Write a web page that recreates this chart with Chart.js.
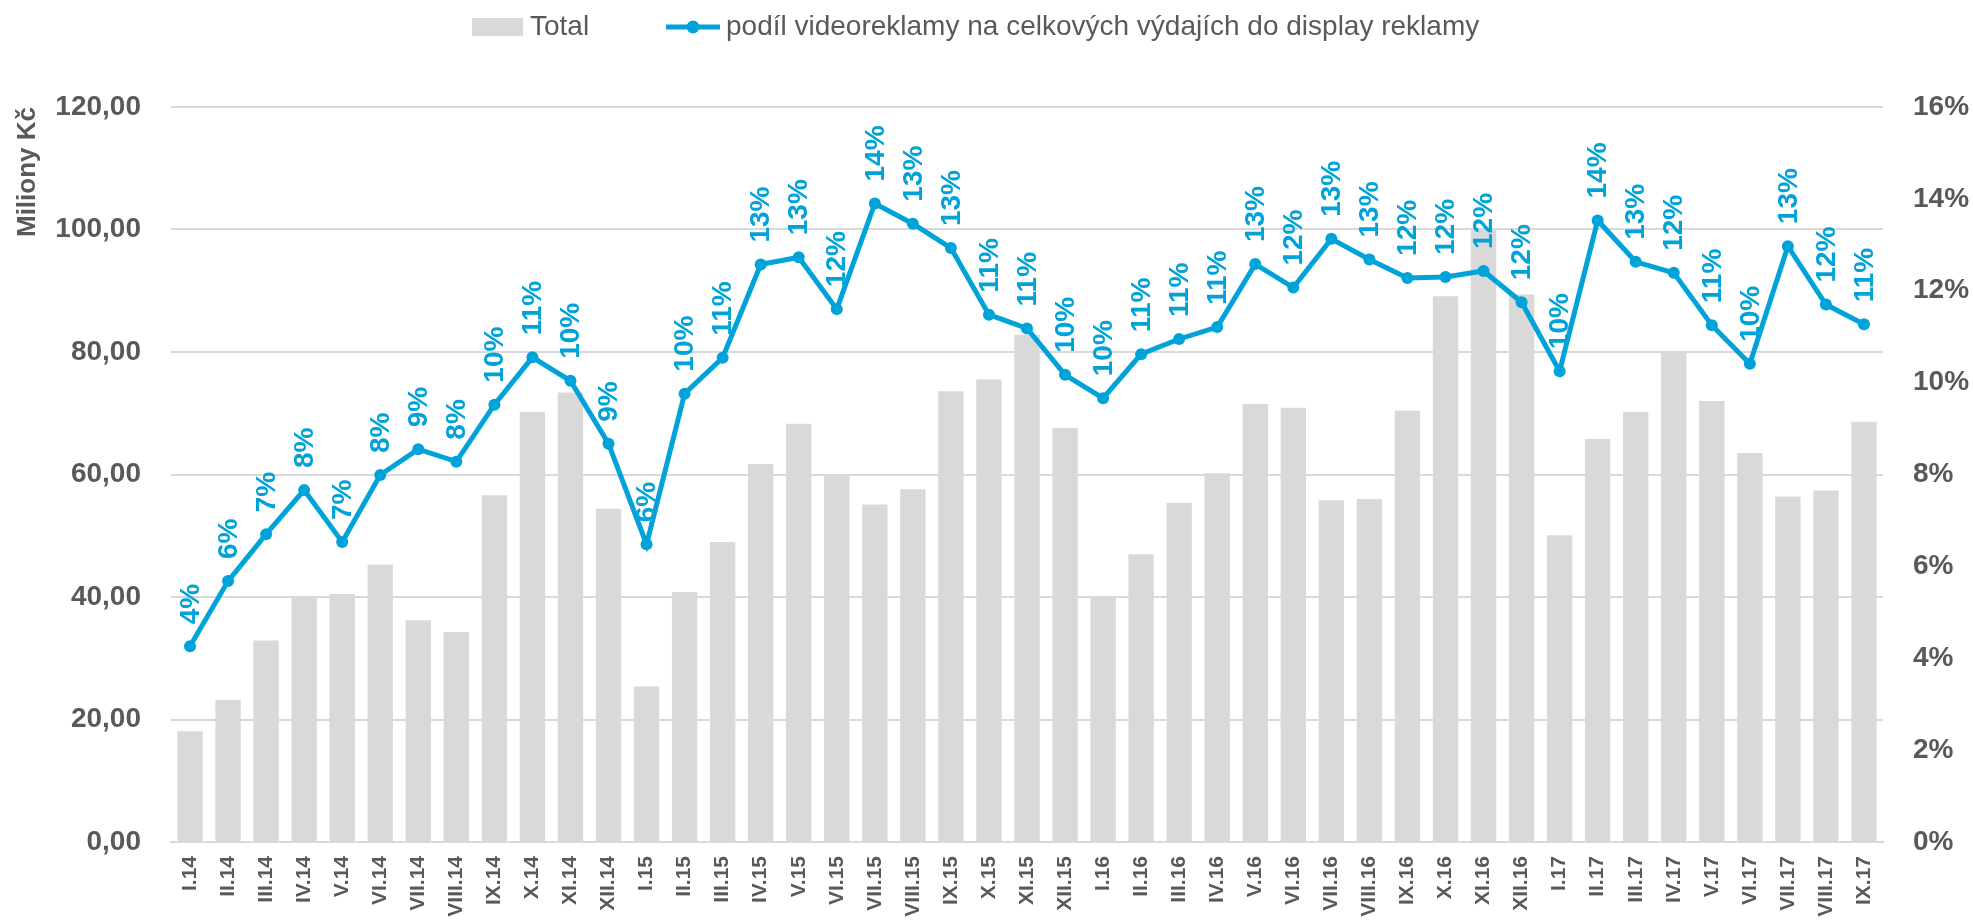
<!DOCTYPE html>
<html>
<head>
<meta charset="utf-8">
<script src="https://cdn.jsdelivr.net/npm/chart.js@4.4.0/dist/chart.umd.min.js"></script>
<style>
html,body{margin:0;padding:0;background:#fff;}
#wrap{width:1973px;height:922px;position:relative;}
</style>
</head>
<body>
<div id="wrap"><canvas id="c" width="1973" height="922"></canvas></div>
<script>
const categories = ["I.14","II.14","III.14","IV.14","V.14","VI.14","VII.14","VIII.14","IX.14","X.14","XI.14","XII.14",
"I.15","II.15","III.15","IV.15","V.15","VI.15","VII.15","VIII.15","IX.15","X.15","XI.15","XII.15",
"I.16","II.16","III.16","IV.16","V.16","VI.16","VII.16","VIII.16","IX.16","X.16","XI.16","XII.16",
"I.17","II.17","III.17","IV.17","V.17","VI.17","VII.17","VIII.17","IX.17"];

const totalValues = [18.1,23.2,32.9,40.1,40.5,45.3,36.2,34.3,56.6,70.2,73.4,54.4,
25.4,40.8,49.0,61.7,68.3,60.1,55.1,57.6,73.6,75.5,82.8,67.6,
40.0,47.0,55.4,60.2,71.5,70.9,55.8,56.0,70.4,89.1,100.0,89.4,
50.1,65.8,70.2,80.1,72.0,63.5,56.4,57.4,68.6];

const shareValues = [0.0426,0.0568,0.0670,0.0766,0.0653,0.0799,0.0855,0.0828,0.0952,0.1055,0.1004,0.0867,
0.0648,0.0976,0.1054,0.1257,0.1273,0.1160,0.1390,0.1346,0.1293,0.1148,0.1118,0.1017,
0.0966,0.1062,0.1095,0.1121,0.1258,0.1207,0.1313,0.1268,0.1228,0.1230,0.1243,0.1175,
0.1025,0.1353,0.1263,0.1239,0.1125,0.1041,0.1297,0.1170,0.1127];

const leftTicks = [0,20,40,60,80,100,120];
const rightTicks = [0,0.02,0.04,0.06,0.08,0.10,0.12,0.14,0.16];

const seriesNames = ["Total","podíl videoreklamy na celkových výdajích do display reklamy"];

const BLUE = "#00A3D9";
const GREY_BAR = "#D9D9D9";
const TXT = "#595959";
const FONT = "'Liberation Sans', Arial, sans-serif";

const labelPlugin = {
  id: 'pctLabels',
  afterDatasetsDraw(chart) {
    const meta = chart.getDatasetMeta(1);
    const ctx = chart.ctx;
    ctx.save();
    ctx.fillStyle = BLUE;
    ctx.font = "bold 28px " + FONT;
    ctx.textAlign = 'left';
    ctx.textBaseline = 'middle';
    meta.data.forEach((pt, i) => {
      const v = shareValues[i];
      const txt = Math.round(v * 100) + '%';
      ctx.save();
      ctx.translate(pt.x, pt.y - 22);
      ctx.rotate(-Math.PI / 2);
      ctx.fillText(txt, 0, 1);
      ctx.restore();
    });
    ctx.restore();
  }
};

const legendPlugin = {
  id: 'customLegend',
  afterDraw(chart) {
    const ctx = chart.ctx;
    ctx.save();
    ctx.font = "28px " + FONT;
    ctx.textBaseline = 'middle';
    ctx.textAlign = 'left';
    const y = 27;
    ctx.fillStyle = GREY_BAR;
    ctx.fillRect(472, y - 9, 51, 18);
    ctx.fillStyle = TXT;
    ctx.fillText(seriesNames[0], 530, y);
    ctx.strokeStyle = BLUE;
    ctx.lineWidth = 5;
    ctx.beginPath();
    ctx.moveTo(666, y);
    ctx.lineTo(720, y);
    ctx.stroke();
    ctx.fillStyle = BLUE;
    ctx.beginPath();
    ctx.arc(693, y, 6.5, 0, Math.PI * 2);
    ctx.fill();
    ctx.fillStyle = TXT;
    ctx.fillText(seriesNames[1], 726, y);
    ctx.restore();
  }
};

new Chart(document.getElementById('c'), {
  data: {
    labels: categories,
    datasets: [
      {
        type: 'bar',
        label: seriesNames[0],
        data: totalValues,
        backgroundColor: GREY_BAR,
        borderWidth: 0,
        yAxisID: 'y',
        order: 2,
        categoryPercentage: 1.0,
        barPercentage: 0.667
      },
      {
        type: 'line',
        label: seriesNames[1],
        data: shareValues,
        borderColor: BLUE,
        backgroundColor: BLUE,
        borderWidth: 5,
        pointRadius: 6,
        pointBackgroundColor: BLUE,
        pointBorderWidth: 0,
        tension: 0,
        yAxisID: 'y1',
        order: 1
      }
    ]
  },
  options: {
    responsive: false,
    animation: false,
    devicePixelRatio: 1,
    layout: { padding: { top: 107, right: 0, bottom: 0, left: 0 } },
    plugins: {
      legend: { display: false },
      tooltip: { enabled: false }
    },
    scales: {
      x: {
        offset: true,
        grid: { display: false, drawTicks: false },
        border: { display: true, color: GREY_BAR, width: 2 },
        ticks: {
          color: TXT,
          font: { family: FONT, size: 21, weight: 'bold' },
          maxRotation: 90,
          minRotation: 90,
          autoSkip: false,
          padding: 14
        },
        afterFit(scale) { scale.height = 80; }
      },
      y: {
        position: 'left',
        min: 0,
        max: 120,
        afterBuildTicks(scale) { scale.ticks = leftTicks.map(v => ({ value: v })); },
        grid: { color: GREY_BAR, lineWidth: 2, drawTicks: false },
        border: { display: false },
        ticks: {
          color: TXT,
          font: { family: FONT, size: 28, weight: 'bold' },
          padding: 30,
          callback: v => v.toFixed(2).replace('.', ',')
        },
        title: {
          display: true,
          text: 'Miliony Kč',
          align: 'end',
          color: TXT,
          font: { family: FONT, size: 26, weight: 'bold' },
          padding: { top: 12, bottom: 0 }
        },
        afterFit(scale) { scale.width = 171; }
      },
      y1: {
        position: 'right',
        min: 0,
        max: 0.16,
        afterBuildTicks(scale) { scale.ticks = rightTicks.map(v => ({ value: v })); },
        grid: { display: false, drawTicks: false },
        border: { display: false },
        ticks: {
          color: TXT,
          font: { family: FONT, size: 28, weight: 'bold' },
          padding: 30,
          callback: v => Math.round(v * 100) + '%'
        },
        afterFit(scale) { scale.width = 90; }
      }
    }
  },
  plugins: [labelPlugin, legendPlugin]
});
</script>
</body>
</html>
